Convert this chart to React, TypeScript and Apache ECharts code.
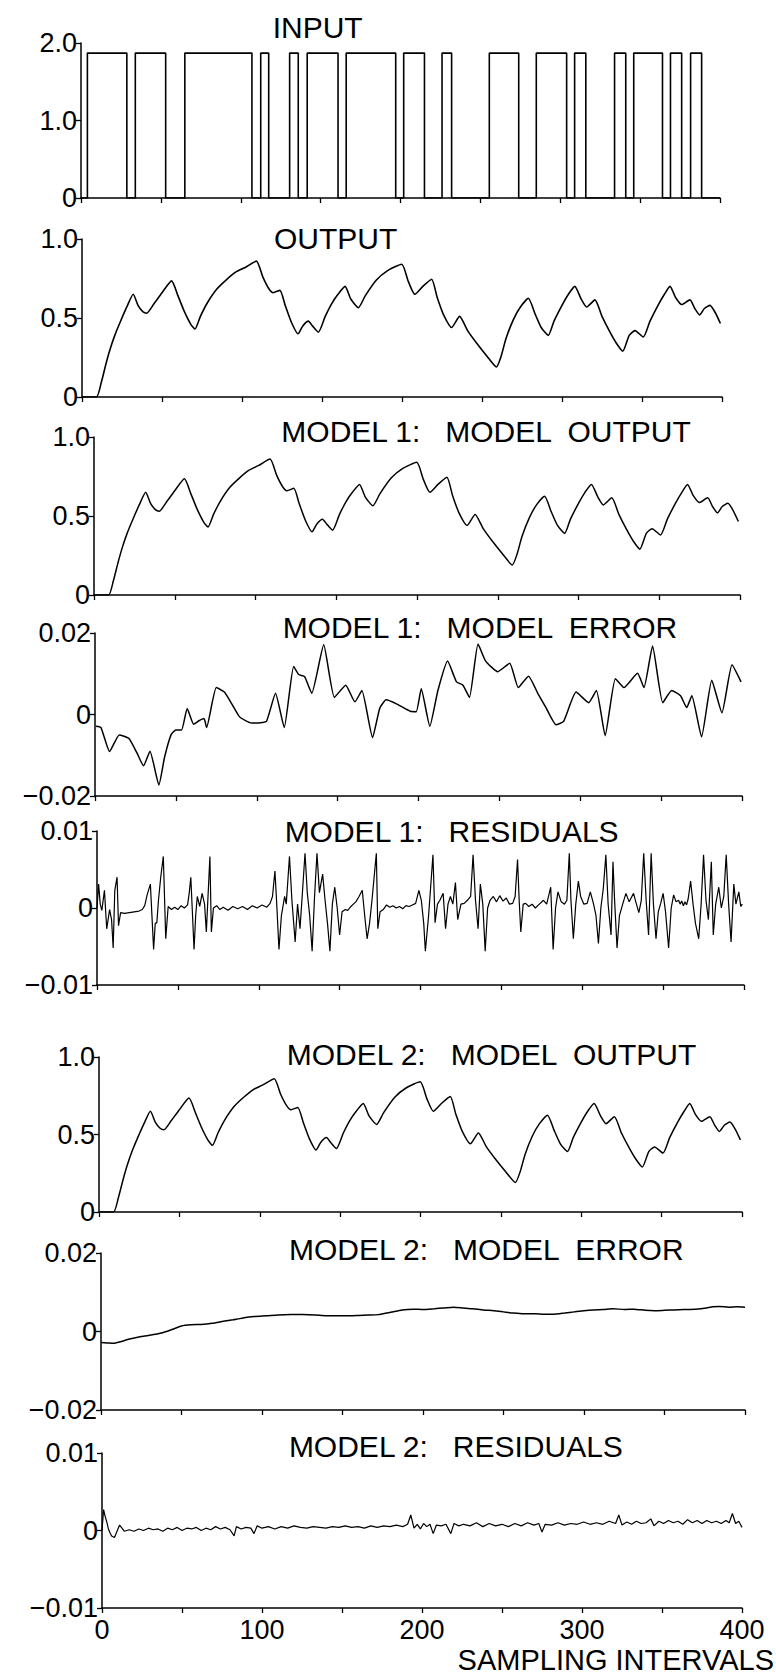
import React, { useEffect, useRef } from "react";
import * as echarts from "echarts";

// ---------- data ----------
const xTickLabels = [0, 100, 200, 300, 400];

const inputRise = [4, 34, 65, 112.5, 130.6, 141.6, 166, 202, 226, 255.6, 285, 309, 334, 346, 369, 381.6];
const inputFall = [28.7, 53, 107, 117.5, 136, 160.9, 197, 215, 232, 274, 304, 316, 341, 364, 376, 388.5];
const inputLevel = 1.87;

const outputX = [0, 9, 12, 15, 17.5, 20.5, 23.7, 28, 32, 35, 38, 40.4, 45, 50, 56, 60, 64, 68, 70.6, 74, 78, 84, 90, 96, 102, 109, 113, 116.5, 119.4, 123.7, 127, 131, 135, 138, 141.5, 144, 147.7, 152, 156, 160, 164.4, 168, 172.7, 177, 184, 191, 199.8, 204, 208, 213, 218.5, 222, 226, 231, 236, 241, 246.7, 253, 259, 262, 265, 269.6, 274, 279, 283, 287, 291.4, 295, 300, 304, 308, 312, 315.4, 320.6, 325, 330, 334, 338, 342, 345.6, 350.8, 355, 360, 364, 367.5, 371, 374.8, 380, 383, 386, 389, 392.5, 396, 399];
const outputY = [0, 0, 0.09, 0.21, 0.3, 0.39, 0.47, 0.57, 0.65, 0.58, 0.54, 0.53, 0.59, 0.66, 0.735, 0.64, 0.54, 0.46, 0.43, 0.51, 0.59, 0.68, 0.74, 0.79, 0.82, 0.86, 0.76, 0.69, 0.66, 0.675, 0.58, 0.47, 0.4, 0.45, 0.48, 0.45, 0.41, 0.51, 0.59, 0.65, 0.7, 0.62, 0.565, 0.64, 0.74, 0.8, 0.84, 0.73, 0.65, 0.7, 0.745, 0.63, 0.52, 0.44, 0.51, 0.42, 0.34, 0.26, 0.19, 0.26, 0.37, 0.49, 0.57, 0.625, 0.53, 0.44, 0.39, 0.48, 0.58, 0.65, 0.7, 0.62, 0.57, 0.615, 0.51, 0.41, 0.34, 0.29, 0.39, 0.42, 0.38, 0.48, 0.58, 0.65, 0.7, 0.63, 0.585, 0.615, 0.56, 0.52, 0.56, 0.58, 0.53, 0.465];

// model errors / residuals in units of 10^-3
const model1ErrorMilli: [number, number][] = [
  [0.6, -2.9], [3.7, -3.2], [9, -9.1], [15, -5.0], [21, -5.9], [26, -9.5], [30, -12.6], [34, -9.0], [39.5, -17.3],
  [43, -10.5], [47, -5.0], [50, -3.8], [53.5, -3.8], [57, 1.5], [61, -2.4], [64, -1.6], [67.4, -1.0], [69, -3.2],
  [75, 6.6], [80, 5.5], [85, 2.3], [89, -0.4], [93, -1.5], [97, -2.1], [101, -2.1], [106, -1.7], [111.6, 5.2],
  [117, -3.2], [122.8, 11.8], [126, 9.8], [129.6, 9.3], [134, 5.2], [141.4, 17.1], [148, 4.2], [155, 7.2],
  [160.7, 3.1], [165, 5.9], [171.6, -5.7], [176, 1.5], [180, 3.6], [187, 2.5], [195, 0.8], [198.6, 0.7],
  [201.7, 6.3], [207, -2.9], [212, 5.9], [218, 13.1], [223.5, 8.0], [227.5, 7.2], [231.5, 4.2], [236.8, 17.3],
  [241.5, 13.1], [249, 10.5], [256.4, 12.6], [261.7, 6.6], [268, 9.4], [274, 5.0], [278.8, 1.7], [285, -2.5],
  [289.7, -1.7], [297.4, 5.5], [305.2, 2.9], [310, 5.9], [315.4, -5.2], [321.7, 8.8], [327, 6.6], [335.4, 10.1],
  [339.4, 6.6], [344.7, 16.8], [351, 2.9], [356.5, 5.9], [362, 4.6], [365.8, 1.7], [369, 4.6], [375, -5.5],
  [381.3, 8.4], [387.6, 0.4], [393.8, 12.2], [399.4, 8.0]
];

const model1ResidualsMilli: [number, number][] = [
  [0, 0], [1, 3.1], [2, 0.5], [3, -0.3], [4.6, 2.3], [6, -2.7], [7.8, -0.2], [9, -1.5], [10, -5.2], [11, 2.3],
  [12.4, 4.0], [13.3, -2.3], [14.6, -0.6], [17, -0.7], [20, -0.6], [23, -0.5], [26, -0.4], [28, -0.2], [29.5, 0.3],
  [31, 1.7], [33, 3.1], [35, -5.4], [36, -2.0], [37, -1.9], [38, 1.0], [39.4, 4.0], [41, 6.7], [42.5, -4.0],
  [44, 0.2], [46, -0.2], [48, 0.1], [50, -0.2], [52, 0.3], [54, 0.0], [56, 0.4], [57, 1.9], [58, 4.0], [60, -5.4],
  [61, -1.0], [62, 1.5], [63.5, 0.2], [65, 1.9], [66.5, 0.5], [67.6, -3.1], [69.8, 6.7], [70.7, -3.1], [72, 0.0],
  [74, 0.3], [76, -0.2], [78, 0.1], [81, -0.3], [84, 0.2], [87, -0.1], [90, 0.2], [93, -0.2], [96, 0.3], [99, 0.0],
  [102, 0.4], [105, 0.1], [107, 0.6], [108.5, 1.5], [110, 4.8], [111, 1.0], [112.5, -5.4], [114, -1.0], [116, 1.5],
  [117, 0.5], [119, 6.7], [120.5, 1.0], [122.5, -4.4], [124, 0.5], [125.5, -2.7], [127, 2.0], [128.6, 7.1],
  [130, 2.0], [131.5, -1.0], [133, -5.6], [134.5, 1.5], [136, 7.1], [137.5, 2.0], [139.5, 4.4], [141, 1.0],
  [142.5, -2.0], [144, -5.6], [145.5, 0.5], [147, 2.7], [148.5, 0.0], [150, -3.5], [151.5, -0.5], [153.5, -0.2],
  [155, -0.3], [157, 0.2], [158.5, 0.5], [160, 0.8], [162, 1.5], [164, 2.3], [165.5, -1.0], [167, -4.0],
  [168.5, -2.0], [170, 1.0], [172.7, 7.1], [173.6, -2.7], [175, -0.5], [177, -0.2], [179, 0.4], [181, 0.1],
  [183, 0.3], [185, 0.0], [187, 0.2], [189, -0.1], [191, 0.3], [193, 0.2], [195, 0.4], [197, 0.6], [199, 2.3],
  [200.5, 1.0], [202, -2.0], [203, -5.6], [205, -1.0], [207.7, 6.9], [209, -1.9], [210.5, 0.5], [212, 1.0],
  [214, 1.9], [215.5, -2.7], [217, 0.5], [218.5, 1.5], [220, 0.5], [221.6, 3.3], [223, -1.5], [225, 0.5],
  [227, 0.6], [229, 1.0], [231, 1.5], [232.5, 6.9], [234, 1.0], [235.6, -2.7], [237, 3.1], [238.5, 0.5],
  [240, -5.6], [241.5, 0.0], [243, 1.0], [245, 1.5], [247, 0.8], [249, 1.6], [251, 0.9], [253, 1.3], [255, 0.5],
  [257, 0.6], [258.5, 1.5], [260, 6.3], [261, 1.0], [262, -3.1], [263.5, 0.5], [265, 0.6], [267, 0.2], [269, 0.5],
  [271, 0.0], [273, 0.4], [276, 1.0], [278, 0.5], [280.5, 2.7], [282, -5.4], [283.5, 0.0], [285, 2.1], [287, 0.8],
  [289, 0.5], [290.5, 1.0], [292, 7.1], [293, 1.0], [294.5, -4.0], [296, 0.5], [297.6, 3.5], [299, 1.5],
  [301, 0.5], [303, 0.6], [305, 2.1], [307, 0.5], [308.5, -1.0], [310, -4.6], [311.5, 0.0], [313, 2.5],
  [314.6, 6.9], [316, 0.5], [317.8, -3.5], [319, 6.0], [320, 1.0], [321.5, -5.2], [323, -1.0], [325, 0.5],
  [327, 1.9], [329, 0.8], [331.7, 1.9], [333.5, 0.5], [335, -0.6], [336.5, 1.0], [338, 7.1], [339.5, 1.0],
  [341, -3.5], [342.6, 7.1], [344, 0.5], [345.6, -4.0], [347, -0.5], [348.5, 0.6], [350, 1.9], [351.5, -0.5],
  [353.4, -5.2], [355, 0.0], [356.5, 1.7], [358, 0.8], [359.6, 1.0], [360.5, 0.5], [361.5, 0.9], [362.5, 0.3],
  [363.5, 0.8], [364.5, 0.4], [365.5, 1.2], [367, 3.5], [368.5, 0.5], [370, -2.0], [372, -4.0], [373.5, 0.5],
  [375, 6.9], [376.5, 1.0], [378, -1.5], [379.8, 6.0], [381, -3.5], [382.5, 0.5], [384.4, 2.7], [386, 0.0],
  [387.5, 1.5], [389, 6.9], [390.5, 0.5], [392, -4.4], [393.7, 3.1], [395, 0.5], [396.8, 2.1], [398, 0.2], [399, 0.5]
];

const model2ErrorMilli: [number, number][] = [
  [0, -2.8], [4, -2.9], [7.8, -3.0], [12, -2.6], [17, -2.0], [25, -1.3], [31, -0.9], [37.5, -0.4], [44, 0.5],
  [50, 1.4], [56, 1.7], [62, 1.8], [69, 2.1], [76, 2.6], [82, 3.0], [87.5, 3.4], [95, 3.8], [103, 4.0], [110, 4.2],
  [118, 4.3], [125, 4.3], [133, 4.2], [140, 4.0], [144, 4.0], [152, 4.0], [160, 4.1], [166, 4.2], [172, 4.3],
  [180, 4.9], [187, 5.5], [194, 5.7], [200, 5.6], [207, 5.8], [213, 6.0], [219, 6.2], [225, 6.0], [231, 5.8],
  [237.5, 5.5], [244, 5.3], [250, 5.0], [256, 4.7], [262.5, 4.5], [270, 4.5], [275, 4.4], [281, 4.4], [288, 4.7],
  [294, 5.0], [300, 5.3], [306, 5.5], [312, 5.6], [318, 5.8], [325, 5.6], [331, 5.7], [338, 5.4], [344, 5.3],
  [350, 5.4], [356, 5.5], [362, 5.6], [369, 5.7], [375, 5.9], [380, 6.3], [384, 6.4], [390, 6.2], [395, 6.3], [400, 6.2]
];

const model2ResidualsMilli: [number, number][] = [
  [0, 0], [1, 2.7], [2, 1.8], [3, 1.1], [4, 0.2], [5, -0.3], [6, -0.7], [7.8, -0.9], [9, -0.3], [11, 0.7],
  [12.5, 0.3], [14, -0.1], [17, 0.1], [20, -0.1], [23, 0.2], [26, 0.0], [29, 0.3], [32, 0.1], [35, 0.2], [38, -0.1],
  [41, 0.3], [44, 0.1], [47, 0.4], [50, 0.0], [53, 0.3], [56, 0.2], [59, 0.4], [62, 0.0], [65, 0.3], [68, 0.1],
  [71, 0.5], [74, 0.2], [77, 0.4], [80, 0.1], [82.6, -0.7], [84, 0.5], [87, 0.2], [90, 0.4], [93, 0.3], [95, -0.4],
  [97, 0.6], [100, 0.3], [104, 0.5], [108, 0.2], [112, 0.5], [116, 0.3], [120, 0.6], [124, 0.4], [128, 0.3],
  [132, 0.5], [136, 0.4], [140, 0.3], [144, 0.5], [148, 0.4], [152, 0.6], [156, 0.4], [160, 0.5], [164, 0.3],
  [168, 0.6], [172, 0.4], [176, 0.6], [180, 0.5], [184, 0.7], [188, 0.5], [191, 0.8], [193, 2.0], [195, 0.3],
  [197, 0.8], [199, 0.2], [201, 0.9], [203, 0.5], [205, 0.8], [207, -0.4], [209, 0.7], [212, 0.6], [215, 0.8],
  [218, -0.4], [220, 0.9], [223, 0.6], [226, 0.8], [230, 0.6], [234, 1.0], [238, 0.5], [242, 0.9], [246, 0.6],
  [250, 0.8], [254, 0.5], [258, 0.9], [262, 0.6], [266, 1.0], [270, 0.7], [273, 0.9], [275, -0.2], [277, 0.8],
  [281, 0.7], [285, 1.0], [289, 0.7], [293, 0.9], [297, 0.8], [301, 1.1], [305, 0.8], [309, 1.0], [313, 0.8],
  [317, 1.2], [321, 0.9], [323, 2.0], [325, 0.7], [328, 1.1], [331, 0.8], [334, 1.2], [337, 0.9], [340, 1.0],
  [343, 1.5], [345, 0.6], [348, 1.2], [351, 0.9], [354, 1.3], [357, 1.0], [360, 1.2], [363, 0.8], [366, 1.4],
  [369, 1.0], [372, 1.3], [375, 0.9], [378, 1.3], [381, 1.0], [384, 1.2], [387, 0.9], [390, 1.3], [392, 1.0],
  [394, 2.2], [396, 0.9], [398, 1.2], [400, 0.4]
];

const panelTitles = [
  "INPUT",
  "OUTPUT",
  "MODEL 1:   MODEL  OUTPUT",
  "MODEL 1:   MODEL  ERROR",
  "MODEL 1:   RESIDUALS",
  "MODEL 2:   MODEL  OUTPUT",
  "MODEL 2:   MODEL  ERROR",
  "MODEL 2:   RESIDUALS"
];
const xAxisTitle = "SAMPLING INTERVALS";

// ---------- layout ----------
const W = 776;
const H = 1676;
const FONT = "'Liberation Sans', Arial, sans-serif";

const panels = [
  { left: 81, right: 720, top: 43, bottom: 198, titleY: 27, titleFrac: 0.3 },
  { left: 82, right: 722, top: 239, bottom: 397, titleY: 238, titleFrac: 0.3 },
  { left: 94, right: 740, top: 437, bottom: 595, titleY: 431, titleFrac: 0.29 },
  { left: 95, right: 742, top: 633, bottom: 796, titleY: 627, titleFrac: 0.29 },
  { left: 97, right: 744, top: 831, bottom: 985, titleY: 831, titleFrac: 0.29 },
  { left: 99, right: 742, top: 1057, bottom: 1212, titleY: 1054, titleFrac: 0.292 },
  { left: 101, right: 745, top: 1253, bottom: 1410, titleY: 1249, titleFrac: 0.292 },
  { left: 102, right: 742, top: 1453, bottom: 1608, titleY: 1446, titleFrac: 0.292 }
];

const milli = (arr: [number, number][]) => arr.map(([x, v]) => [x, v / 1000]);

export default function App() {
  const ref = useRef<HTMLDivElement>(null);

  useEffect(() => {
    if (!ref.current) return;
    const chart = echarts.init(ref.current, null, { renderer: "svg" });

    const inputData: number[][] = [[0, 0]];
    inputRise.forEach((r, i) => {
      inputData.push([r, 0], [r, inputLevel], [inputFall[i], inputLevel], [inputFall[i], 0]);
    });
    inputData.push([400, 0]);

    const outputData = outputX.map((x, i) => [x, outputY[i]]);

    const seriesData = [
      inputData,
      outputData,
      outputData,
      milli(model1ErrorMilli),
      milli(model1ResidualsMilli),
      outputData,
      milli(model2ErrorMilli),
      milli(model2ResidualsMilli)
    ];

    const yRanges = [
      { min: 0, max: 2, interval: 1, dec: 1 },
      { min: 0, max: 1, interval: 0.5, dec: 1 },
      { min: 0, max: 1, interval: 0.5, dec: 1 },
      { min: -0.02, max: 0.02, interval: 0.02, dec: 2 },
      { min: -0.01, max: 0.01, interval: 0.01, dec: 2 },
      { min: 0, max: 1, interval: 0.5, dec: 1 },
      { min: -0.02, max: 0.02, interval: 0.02, dec: 2 },
      { min: -0.01, max: 0.01, interval: 0.01, dec: 2 }
    ];

    const lineWidths = [1.6, 1.6, 1.5, 1.5, 1.2, 1.5, 1.5, 1.2];
    const smooths = [false, 0.2, 0.2, 0.15, false, 0.2, 0.2, false];

    const axisLineStyle = { color: "#000", width: 1.5 };

    const fmtY = (v: number, dec: number) => {
      if (Math.abs(v) < 1e-12) return "0";
      const s = Math.abs(v).toFixed(dec);
      return v < 0 ? "\u2212" + s : s;
    };

    const option: any = {
      animation: false,
      backgroundColor: "#fff",
      grid: panels.map((p) => ({
        left: p.left,
        top: p.top,
        width: p.right - p.left,
        height: p.bottom - p.top,
        containLabel: false
      })),
      xAxis: panels.map((p, i) => ({
        type: "value",
        gridIndex: i,
        min: 0,
        max: 400,
        interval: 50,
        axisLine: { show: true, onZero: false, lineStyle: axisLineStyle },
        axisTick: { show: true, length: 5, inside: false, lineStyle: { color: "#000", width: 1.3 } },
        splitLine: { show: false },
        axisLabel: {
          show: i === panels.length - 1,
          color: "#000",
          fontSize: 27,
          fontFamily: FONT,
          margin: 8,
          formatter: (v: number) => (xTickLabels.indexOf(v) >= 0 ? String(v) : "")
        }
      })),
      yAxis: yRanges.map((r, i) => ({
        type: "value",
        gridIndex: i,
        min: r.min,
        max: r.max,
        interval: r.interval,
        axisLine: { show: true, onZero: false, lineStyle: axisLineStyle },
        axisTick: { show: true, length: 5, inside: false, lineStyle: { color: "#000", width: 1.3 } },
        splitLine: { show: false },
        axisLabel: {
          show: true,
          color: "#000",
          fontSize: 27,
          fontFamily: FONT,
          margin: 4,
          formatter: (v: number) => fmtY(v, r.dec)
        }
      })),
      series: seriesData.map((d, i) => ({
        type: "line",
        xAxisIndex: i,
        yAxisIndex: i,
        data: d,
        showSymbol: false,
        symbol: "none",
        smooth: smooths[i],
        silent: true,
        lineStyle: { color: "#000", width: lineWidths[i] }
      })),
      graphic: [
        ...panels.map((p, i) => ({
          type: "text",
          x: p.left + p.titleFrac * (p.right - p.left),
          y: p.titleY,
          silent: true,
          style: {
            text: panelTitles[i],
            fill: "#000",
            font: `30px ${FONT}`,
            textAlign: "left",
            textVerticalAlign: "middle",
            align: "left",
            verticalAlign: "middle"
          }
        })),
        {
          type: "text",
          x: 774,
          y: 1660,
          silent: true,
          style: {
            text: xAxisTitle,
            fill: "#000",
            font: `29px ${FONT}`,
            textAlign: "right",
            textVerticalAlign: "middle",
            align: "right",
            verticalAlign: "middle"
          }
        }
      ]
    };

    chart.setOption(option);
    return () => chart.dispose();
  }, []);

  return (
    <div
      ref={ref}
      style={{ position: "absolute", left: 0, top: 0, width: W, height: H, background: "#fff" }}
    />
  );
}
